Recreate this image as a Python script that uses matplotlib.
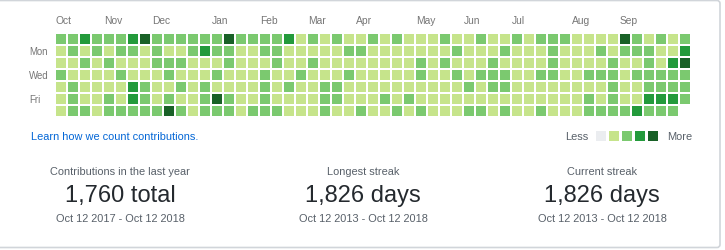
import matplotlib
matplotlib.use("Agg")
import matplotlib.pyplot as plt
from matplotlib.patches import Rectangle, FancyBboxPatch

plt.rcParams['font.family'] = ['Liberation Sans', 'DejaVu Sans']

# contribution level per day, rows = Sun..Sat, 53 weeks (None = no cell)
levels = [
    [2,2,3,2,2,2,3,4,2,2,2,2, 2,2,4,2,2,2,2,3,1,2,1,2, 1,1,2,1,2,1,1,1,2,1,1,2, 1,1,2,1,2,2,2,1,1,1,1,4, 2,1,2,1,2],
    [1,2,1,2,1,2,2,1,2,1,1,2, 3,2,2,1,1,2,2,1,1,1,1,1, 2,2,1,1,1,1,1,1,1,2,1,1, 1,2,1,1,1,2,1,1,1,2,1,2, 2,2,1,1,3],
    [1,1,2,1,2,1,1,1,2,2,2,1, 1,1,2,1,1,1,2,1,1,2,1,1, 1,1,1,1,1,1,2,1,2,1,1,1, 2,1,1,1,1,2,1,1,1,1,2,1, 1,2,1,3,4],
    [2,1,1,1,1,2,1,1,1,2,1,1, 1,2,1,1,1,2,1,1,2,1,1,1, 2,1,1,1,1,1,2,1,1,2,1,2, 2,2,1,1,2,2,1,1,2,2,2,1, 2,2,2,2,2],
    [1,2,1,1,1,1,3,2,1,1,2,1, 2,1,1,1,1,2,1,2,1,1,2,2, 1,1,1,1,1,1,1,1,1,1,2,1, 2,2,1,1,1,1,1,1,1,1,2,1, 1,2,2,2,2],
    [1,2,1,1,2,1,3,2,1,2,1,1, 2,4,2,1,1,2,1,1,1,1,2,2, 1,1,1,2,1,2,1,1,1,1,1,1, 1,1,1,1,1,1,1,1,2,1,2,1, 1,3,3,3,2],
    [1,2,2,1,2,2,2,2,2,4,2,1, 2,2,2,1,2,2,2,1,1,1,2,1, 1,2,1,1,2,1,2,1,1,1,2,2, 1,2,1,1,2,1,1,1,2,2,2,2, 3,2,2,2,None],
]
months = ["Oct", "Nov", "Dec", "Jan", "Feb", "Mar", "Apr", "May", "Jun", "Jul", "Aug", "Sep"]
month_cols = [0, 4, 8, 13, 17, 21, 25, 30, 34, 38, 43, 47]
day_labels = ["Mon", "Wed", "Fri"]
day_rows = [1, 3, 5]
palette = ["#ebedf0", "#c6e48b", "#7bc96f", "#239a3b", "#196127"]

stat_titles = ["Contributions in the last year", "Longest streak", "Current streak"]
stat_values = ["1,760 total", "1,826 days", "1,826 days"]
stat_ranges = ["Oct 12 2017 - Oct 12 2018", "Oct 12 2013 - Oct 12 2018", "Oct 12 2013 - Oct 12 2018"]

fig = plt.figure(figsize=(7.25, 2.51), dpi=100)
ax = fig.add_axes([0, 0, 1, 1])
ax.set_xlim(0, 725)
ax.set_ylim(251, 0)
ax.axis("off")

# outer box
ax.add_patch(FancyBboxPatch((-20, 1.5), 740, 247, boxstyle="round,pad=0,rounding_size=3",
                            fill=False, edgecolor="#d1d5da", lw=1.2))

x0, y0, step, size = 56, 35, 12, 10
for r, row in enumerate(levels):
    for c, lv in enumerate(row):
        if lv is None:
            continue
        ax.add_patch(Rectangle((x0 + c * step, y0 + r * step), size, size,
                               facecolor=palette[lv], edgecolor="none"))

for name, col in zip(months, month_cols):
    ax.text(x0 + col * step, 21, name, fontsize=7.4, color="#767676", va="center", ha="left")
for name, r in zip(day_labels, day_rows):
    ax.text(29, y0 + r * step + 5, name, fontsize=6.9, color="#767676", va="center", ha="left")

ax.text(31, 137, "Learn how we count contributions.", fontsize=7.9, color="#0366d6",
        va="center", ha="left")

# legend
ax.text(565, 137, "Less", fontsize=7.9, color="#586069", va="center", ha="left")
for i, col in enumerate(palette):
    ax.add_patch(Rectangle((596 + i * 13, 132), size, size, facecolor=col, edgecolor="none"))
ax.text(667, 137, "More", fontsize=7.9, color="#586069", va="center", ha="left")

centers = [120, 363, 602]
for cx, t, v, rg in zip(centers, stat_titles, stat_values, stat_ranges):
    ax.text(cx, 172, t, fontsize=7.9, color="#586069", ha="center", va="center")
    ax.text(cx, 196, v, fontsize=17, color="#24292e", ha="center", va="center")
    ax.text(cx, 219, rg, fontsize=7.9, color="#586069", ha="center", va="center")

fig.savefig("out.png", dpi=100)
